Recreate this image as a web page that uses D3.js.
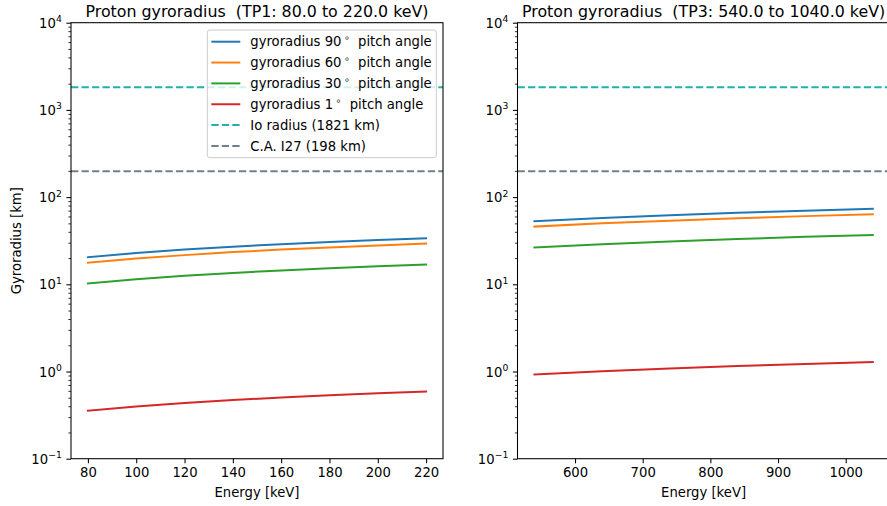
<!DOCTYPE html>
<html>
<head>
<meta charset="utf-8">
<script src="https://cdn.jsdelivr.net/npm/d3@7"></script>
<style>
  html, body { margin: 0; padding: 0; background: #fff; }
  svg { display: block; font-family: "DejaVu Sans", sans-serif; }
  text { white-space: pre; }
</style>
</head>
<body>
<svg id="chart" width="887" height="506"></svg>
<script>
// Proton gyroradius vs. energy for several pitch angles
const energyTP1 = [80, 100, 120, 140, 160, 180, 200, 220];
const tp1_90 = [20.4, 22.8, 25.0, 27.0, 28.85, 30.6, 32.25, 33.8];
const tp1_60 = [17.7, 19.75, 21.6, 23.4, 25.0, 26.5, 27.9, 29.3];
const tp1_30 = [10.2, 11.4, 12.5, 13.5, 14.4, 15.3, 16.1, 16.9];
const tp1_1  = [0.356, 0.398, 0.436, 0.471, 0.503, 0.534, 0.563, 0.590];

const energyTP3 = [540, 640, 740, 840, 940, 1040];
const tp3_90 = [53.0, 57.7, 62.0, 66.1, 69.9, 73.6];
const tp3_60 = [45.9, 50.0, 53.7, 57.2, 60.5, 63.7];
const tp3_30 = [26.5, 28.85, 31.0, 33.0, 35.0, 36.8];
const tp3_1  = [0.925, 1.007, 1.082, 1.153, 1.220, 1.284];

const pitchAngles = [90, 60, 30, 1];
const refLines = [
  { label: "Io radius (1821 km)", value: 1821 },
  { label: "C.A. I27 (198 km)", value: 198 }
];
const xTicksTP1 = [80, 100, 120, 140, 160, 180, 200, 220];
const xTicksTP3 = [600, 700, 800, 900, 1000];
const yExponents = [-1, 0, 1, 2, 3, 4];

const seriesColors = ["#1f77b4", "#ff7f0e", "#2ca02c", "#d62728"];
const refColors = ["#20b2aa", "#708090"];

const pt = 1.32;            // px per point
const lw = 1.5 * pt;
const dash = `${3.7 * lw},${1.6 * lw}`;
const tickFont = 10 * pt;
const titleFont = 12 * pt;

const svg = d3.select("#chart");

const panels = [
  { title: "Proton gyroradius  (TP1: 80.0 to 220.0 keV)", x0: 71, x1: 443,
    energy: energyTP1, series: [tp1_90, tp1_60, tp1_30, tp1_1],
    xDomain: [73, 227], xTicks: xTicksTP1, ylabel: true, legend: true },
  { title: "Proton gyroradius  (TP3: 540.0 to 1040.0 keV)", x0: 517.5, x1: 889.7,
    energy: energyTP3, series: [tp3_90, tp3_60, tp3_30, tp3_1],
    xDomain: [515, 1065], xTicks: xTicksTP3, ylabel: false, legend: false }
];

const yTop = 22.7, yBot = 458.7;

const minorVals = [];
yExponents.slice(0, -1).forEach(e => {
  for (let m = 2; m <= 9; m++) minorVals.push(m * Math.pow(10, e));
});

panels.forEach(p => {
  const x = d3.scaleLinear().domain(p.xDomain).range([p.x0, p.x1]);
  const y = d3.scaleLog().domain([0.1, 1e4]).range([yBot, yTop]);
  const g = svg.append("g");

  // data lines
  const line = d3.line().x(d => x(d[0])).y(d => y(d[1]));
  p.series.forEach((vals, i) => {
    g.append("path")
      .datum(p.energy.map((e, k) => [e, vals[k]]))
      .attr("d", line)
      .attr("fill", "none")
      .attr("stroke", seriesColors[i])
      .attr("stroke-width", lw)
      .attr("stroke-linecap", "square");
  });

  // horizontal reference lines
  refLines.forEach((r, i) => {
    g.append("line")
      .attr("x1", p.x0).attr("x2", p.x1)
      .attr("y1", y(r.value)).attr("y2", y(r.value))
      .attr("stroke", refColors[i])
      .attr("stroke-width", lw)
      .attr("stroke-dasharray", dash);
  });

  // y axis: major ticks
  const yAxis = g.append("g")
    .attr("transform", `translate(${p.x0},0)`)
    .call(d3.axisLeft(y).tickValues(yExponents.map(e => Math.pow(10, e)))
      .tickSize(3.5 * pt).tickSizeOuter(0).tickPadding(3.5 * pt).tickFormat(""));
  yAxis.select(".domain").remove();
  yAxis.selectAll(".tick line").attr("stroke", "#000").attr("stroke-width", 0.8 * pt);
  yAxis.selectAll(".tick text").each(function(d) {
    const t = d3.select(this);
    const ex = Math.round(Math.log10(d));
    t.attr("font-size", tickFont).attr("fill", "#000")
      .attr("font-family", "DejaVu Sans").attr("dy", "0.35em");
    t.append("tspan").text("10");
    t.append("tspan").attr("font-size", tickFont * 0.7).attr("dy", -tickFont * 0.42)
      .text(ex < 0 ? "\u2212" + Math.abs(ex) : String(ex));
  });

  // y axis: minor ticks
  const yMinor = g.append("g")
    .attr("transform", `translate(${p.x0},0)`)
    .call(d3.axisLeft(y).tickValues(minorVals).tickSize(2 * pt).tickSizeOuter(0).tickFormat(""));
  yMinor.select(".domain").remove();
  yMinor.selectAll(".tick line").attr("stroke", "#000").attr("stroke-width", 0.6 * pt);

  // x axis
  const xAxis = g.append("g")
    .attr("transform", `translate(0,${yBot})`)
    .call(d3.axisBottom(x).tickValues(p.xTicks).tickSize(3.5 * pt).tickSizeOuter(0)
      .tickPadding(3.5 * pt).tickFormat(d3.format("d")));
  xAxis.select(".domain").remove();
  xAxis.selectAll(".tick line").attr("stroke", "#000").attr("stroke-width", 0.8 * pt);
  xAxis.selectAll(".tick text").attr("font-size", tickFont).attr("fill", "#000")
    .attr("font-family", "DejaVu Sans");

  // frame
  g.append("rect")
    .attr("x", p.x0).attr("y", yTop)
    .attr("width", p.x1 - p.x0).attr("height", yBot - yTop)
    .attr("fill", "none").attr("stroke", "#000").attr("stroke-width", 0.8 * pt);

  // title
  g.append("text")
    .attr("x", (p.x0 + p.x1) / 2).attr("y", 16.5)
    .attr("text-anchor", "middle").attr("font-size", titleFont)
    .text(p.title);

  // x label
  g.append("text")
    .attr("x", (p.x0 + p.x1) / 2).attr("y", 497)
    .attr("text-anchor", "middle").attr("font-size", tickFont)
    .text("Energy [keV]");

  if (p.ylabel) {
    g.append("text")
      .attr("transform", `translate(21,${(yTop + yBot) / 2}) rotate(-90)`)
      .attr("text-anchor", "middle").attr("font-size", tickFont)
      .text("Gyroradius [km]");
  }

  if (p.legend) {
    const lx = 207.3, ly = 30, lwid = 229, lh = 127.7, rowH = 20.85;
    const leg = g.append("g");
    leg.append("rect")
      .attr("x", lx).attr("y", ly).attr("width", lwid).attr("height", lh)
      .attr("rx", 2.5).attr("ry", 2.5)
      .attr("fill", "#fff").attr("fill-opacity", 0.8)
      .attr("stroke", "#cccccc").attr("stroke-width", 1);
    const items = pitchAngles.map((a, i) => ({ angle: a, color: seriesColors[i], dashed: false }))
      .concat(refLines.map((r, i) => ({ label: r.label, color: refColors[i], dashed: true })));
    items.forEach((it, i) => {
      const cy = ly + 11.7 + i * rowH;
      leg.append("line")
        .attr("x1", lx + 4).attr("x2", lx + 33).attr("y1", cy).attr("y2", cy)
        .attr("stroke", it.color).attr("stroke-width", lw)
        .attr("stroke-dasharray", it.dashed ? dash : null);
      const t = leg.append("text")
        .attr("x", lx + 43).attr("y", cy).attr("dy", "0.35em")
        .attr("font-size", tickFont);
      if (it.dashed) {
        t.text(it.label);
      } else {
        t.append("tspan").text(`gyroradius ${it.angle}`);
        t.append("tspan").attr("font-size", tickFont * 0.7).attr("dy", -tickFont * 0.4)
          .attr("dx", 2.5).text("\u2218");
        t.append("tspan").attr("dy", tickFont * 0.4).text("  pitch angle");
      }
    });
  }
});
</script>
</body>
</html>
